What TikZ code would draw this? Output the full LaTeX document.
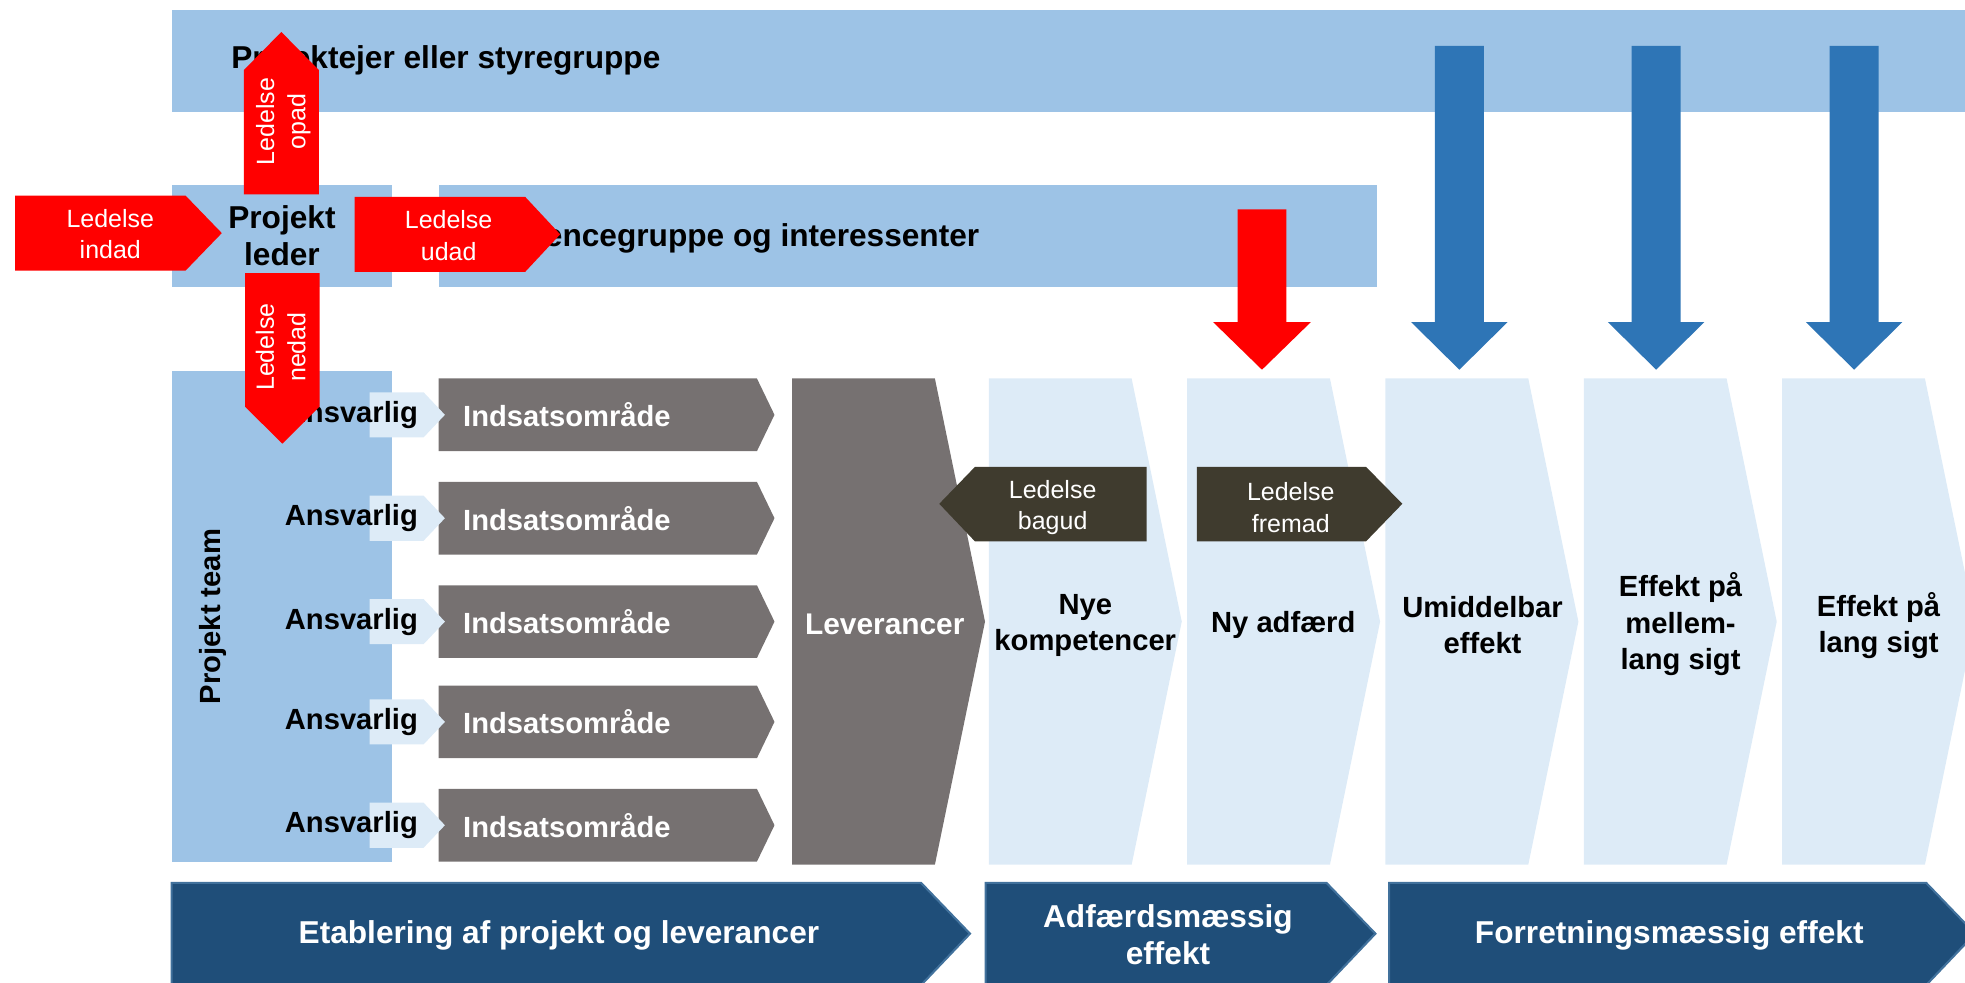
\documentclass[tikz,border=0pt]{standalone}
\usepackage{fontspec}
\setmainfont{Liberation Sans}
\usepackage{xcolor}
\usepackage{tikz}

\definecolor{barblue}{HTML}{9DC3E6}
\definecolor{arrowblue}{HTML}{2E75B6}
\definecolor{paleblue}{HTML}{DDEBF7}
\definecolor{stonegray}{HTML}{767171}
\definecolor{darkolive}{HTML}{3F3B2E}
\definecolor{navy}{HTML}{1F4E79}
\definecolor{navyedge}{HTML}{41719C}
\definecolor{leadred}{HTML}{FF0000}

\begin{document}
\begin{tikzpicture}[x=0.012532cm, y=-0.012532cm,
	bar/.style={fill=barblue},
	pale/.style={fill=paleblue},
	stone/.style={fill=stonegray},
	lead/.style={fill=leadred},
	olive/.style={fill=darkolive},
	banner/.style={fill=navy, draw=navyedge, line width=0.6pt},
	down/.style={fill=arrowblue},
	big/.style={font=\fontsize{9}{10.4}\selectfont\bfseries, align=center, inner sep=0pt},
	lbl/.style={font=\fontsize{8.3}{10.3}\selectfont\bfseries, align=center, inner sep=0pt},
	wlbl/.style={lbl, text=white},
	wbig/.style={big, text=white},
	ledtxt/.style={font=\fontsize{7.1}{8.9}\selectfont, text=white, align=center, inner sep=0pt}]
	\clip (0,0) rectangle (1568,784);

	% bars
	\fill[bar] (137,8) rectangle (1580,89);
	\fill[bar] (137,148) rectangle (313,229);
	\fill[bar] (350,148) rectangle (1099,229);
	\fill[bar] (137,296) rectangle (313,688);
	\node[big, anchor=west] (owner) at (184,48) {Projektejer eller styregruppe};
	\node[big, anchor=east] (refgrp) at (782,190) {Referencegruppe og interessenter};
	\node[big] (pleader) at (225,188) {Projekt\\leder};
	\node[lbl, rotate=90] (team) at (170,492) {Projekt team};

	% indsatsomraader
	\fill[stone] (350,302) -- (604,302) -- (618,331) -- (604,360) -- (350,360) -- cycle;
	\fill[stone] (350,384.5) -- (604,384.5) -- (618,413.5) -- (604,442.5) -- (350,442.5) -- cycle;
	\fill[stone] (350,467) -- (604,467) -- (618,496) -- (604,525) -- (350,525) -- cycle;
	\fill[stone] (350,547) -- (604,547) -- (618,576) -- (604,605) -- (350,605) -- cycle;
	\fill[stone] (350,629.5) -- (604,629.5) -- (618,658.5) -- (604,687.5) -- (350,687.5) -- cycle;
	\fill[pale] (295,313) -- (338,313) -- (355,331) -- (338,349) -- (295,349) -- cycle;
	\fill[pale] (295,395.5) -- (338,395.5) -- (355,413.5) -- (338,431.5) -- (295,431.5) -- cycle;
	\fill[pale] (295,478) -- (338,478) -- (355,496) -- (338,514) -- (295,514) -- cycle;
	\fill[pale] (295,558) -- (338,558) -- (355,576) -- (338,594) -- (295,594) -- cycle;
	\fill[pale] (295,640.5) -- (338,640.5) -- (355,658.5) -- (338,676.5) -- (295,676.5) -- cycle;
	\node[lbl, anchor=east] (ans1) at (334,331) {Ansvarlig};
	\node[lbl, anchor=east] (ans2) at (334,413.5) {Ansvarlig};
	\node[lbl, anchor=east] (ans3) at (334,496) {Ansvarlig};
	\node[lbl, anchor=east] (ans4) at (334,576) {Ansvarlig};
	\node[lbl, anchor=east] (ans5) at (334,658.5) {Ansvarlig};
	\node[wlbl, anchor=west] (ind1) at (369,331) {Indsatsområde};
	\node[wlbl, anchor=west] (ind2) at (369,413.5) {Indsatsområde};
	\node[wlbl, anchor=west] (ind3) at (369,496) {Indsatsområde};
	\node[wlbl, anchor=west] (ind4) at (369,576) {Indsatsområde};
	\node[wlbl, anchor=west] (ind5) at (369,658.5) {Indsatsområde};

	% leverancer og effekter
	\fill[stone] (632,302) -- (746,302) -- (786,496) -- (746,690) -- (632,690) -- cycle;
	\node[wlbl, font=\fontsize{8.5}{10.3}\selectfont\bfseries] (lev) at (706,498) {Leverancer};
	\fill[pale] (789,302) -- (903,302) -- (943,496) -- (903,690) -- (789,690) -- cycle;
	\fill[pale] (947.25,302) -- (1061.25,302) -- (1101.25,496) -- (1061.25,690) -- (947.25,690) -- cycle;
	\fill[pale] (1105.5,302) -- (1219.5,302) -- (1259.5,496) -- (1219.5,690) -- (1105.5,690) -- cycle;
	\fill[pale] (1263.75,302) -- (1377.75,302) -- (1417.75,496) -- (1377.75,690) -- (1263.75,690) -- cycle;
	\fill[pale] (1422,302) -- (1536,302) -- (1576,496) -- (1536,690) -- (1422,690) -- cycle;
	\node[lbl] (komp) at (866,499) {Nye\\kompetencer};
	\node[lbl] (adf) at (1024,499) {Ny adfærd};
	\node[lbl] (umid) at (1183,499) {Umiddelbar\\effekt};
	\node[lbl] (mell) at (1341,498) {Effekt på\\mellem-\\lang sigt};
	\node[lbl] (lang) at (1499,499) {Effekt på\\lang sigt};

	\fill[olive] (749.5,402) -- (778,372.5) -- (915,372.5) -- (915,432) -- (778,432) -- cycle;
	\fill[olive] (955,372.5) -- (1090,372.5) -- (1119,402) -- (1090,432) -- (955,432) -- cycle;
	\node[ledtxt] (bagud) at (840,405) {Ledelse\\bagud};
	\node[ledtxt] (fremad) at (1030,405) {Ledelse\\fremad};

	% pile ned
	\fill[lead] (987.5,167) -- (1026.5,167) -- (1026.5,257) -- (1046,257) -- (1007,295) -- (968,257) -- (987.5,257) -- cycle;
	\fill[down] (1145,36.5) -- (1184,36.5) -- (1184,257) -- (1203,257) -- (1164.5,295) -- (1126,257) -- (1145,257) -- cycle;
	\fill[down] (1302,36.5) -- (1341,36.5) -- (1341,257) -- (1360,257) -- (1321.5,295) -- (1283,257) -- (1302,257) -- cycle;
	\fill[down] (1460,36.5) -- (1499,36.5) -- (1499,257) -- (1518,257) -- (1479.5,295) -- (1441,257) -- (1460,257) -- cycle;

	% ledelse
	\fill[lead] (12,156) -- (148,156) -- (177,186) -- (148,216) -- (12,216) -- cycle;
	\fill[lead] (283,157) -- (419,157) -- (447,187) -- (419,217) -- (283,217) -- cycle;
	\fill[lead] (194.5,155) -- (194.5,56) -- (224.5,25.5) -- (254.5,56) -- (254.5,155) -- cycle;
	\fill[lead] (195.5,218) -- (255,218) -- (255,324.5) -- (225.3,354) -- (195.5,324.5) -- cycle;
	\node[ledtxt] (indad) at (88,186.5) {Ledelse\\indad};
	\node[ledtxt] (udad) at (358,188) {Ledelse\\udad};
	\node[ledtxt, rotate=90] (opad) at (226,97) {Ledelse\\opad};
	\node[ledtxt, rotate=90] (nedad) at (224,277) {Ledelse\\nedad};

	% faser
	\filldraw[banner] (137,704.5) -- (735,704.5) -- (774,745) -- (735,786) -- (137,786) -- cycle;
	\filldraw[banner] (786.5,704.5) -- (1058.5,704.5) -- (1097.5,745) -- (1058.5,786) -- (786.5,786) -- cycle;
	\filldraw[banner] (1108.5,704.5) -- (1537,704.5) -- (1576,745) -- (1537,786) -- (1108.5,786) -- cycle;
	\node[wbig] (etab) at (446,746) {Etablering af projekt og leverancer};
	\node[wbig] (adfeff) at (932,746) {Adfærdsmæssig\\effekt};
	\node[wbig] (forr) at (1332,746) {Forretningsmæssig effekt};
\end{tikzpicture}
\end{document}
